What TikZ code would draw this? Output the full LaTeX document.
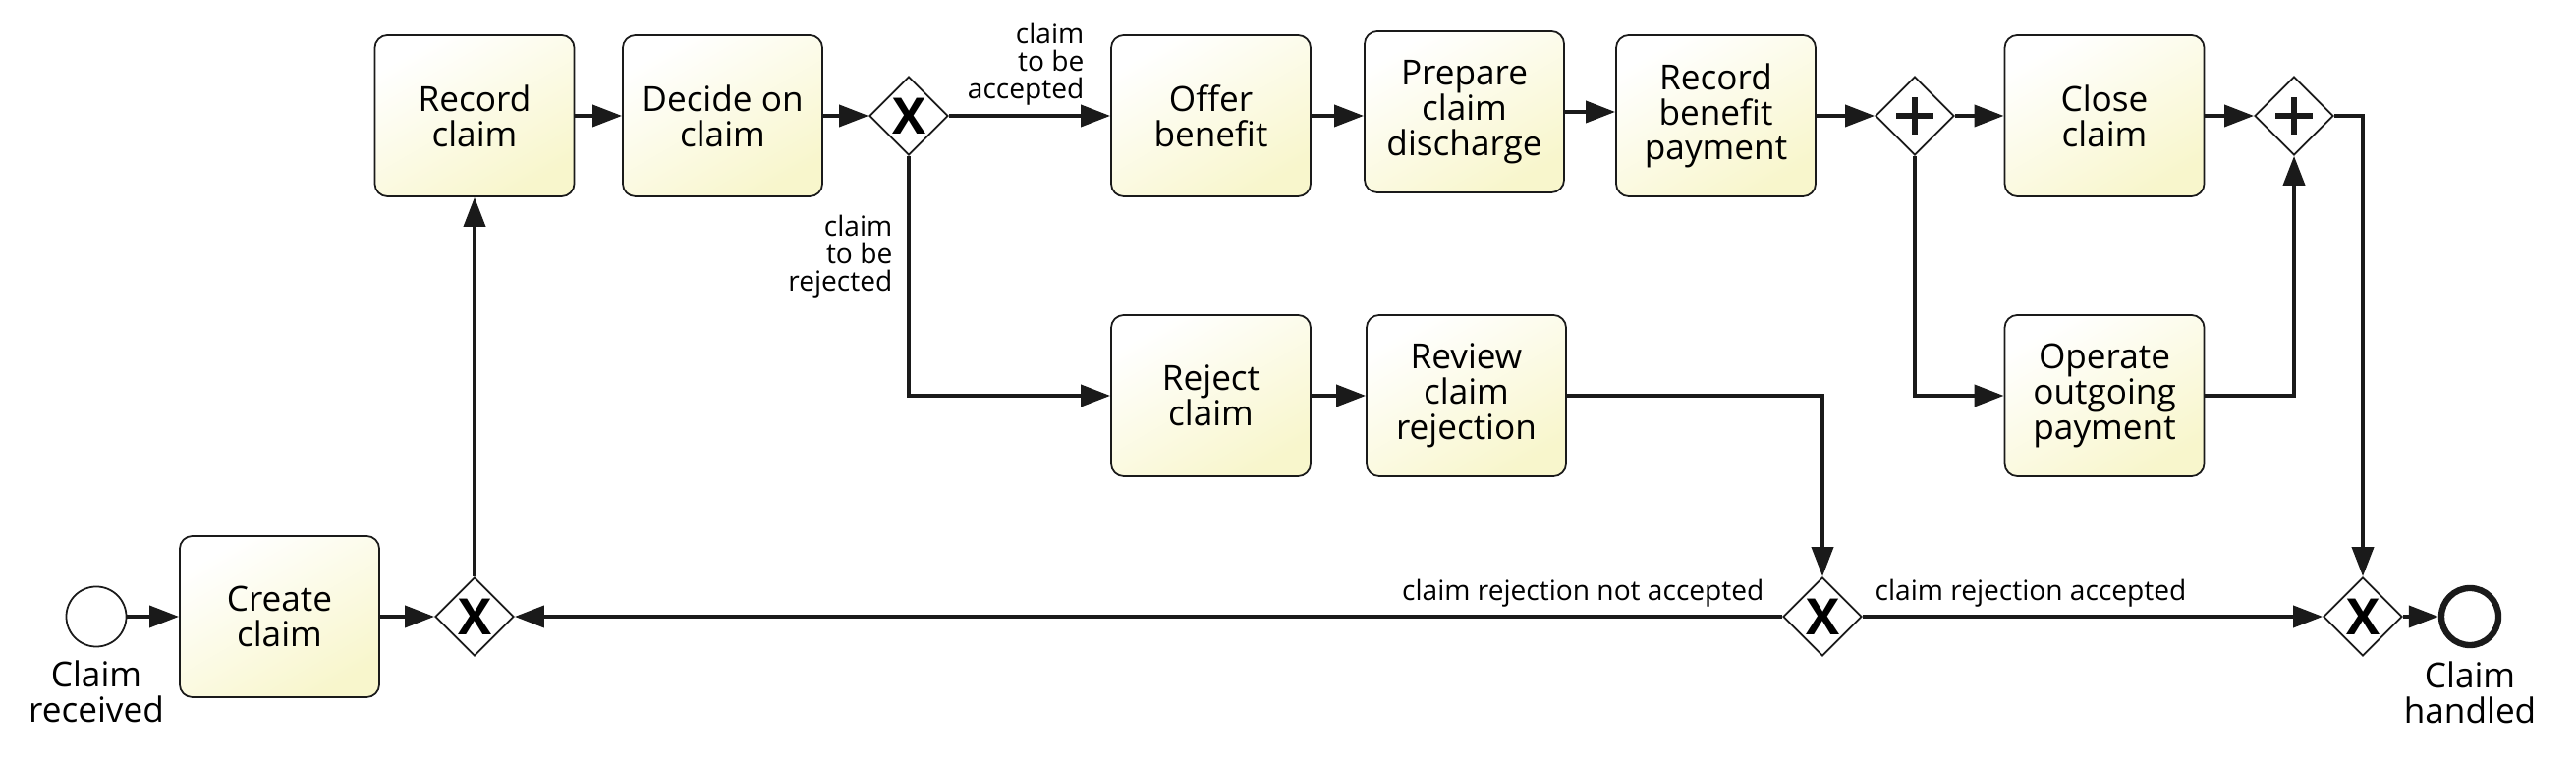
\documentclass[tikz,border=0pt]{standalone}
\usepackage{fontspec}
\setmainfont{Open Sans}
\usetikzlibrary{shapes.geometric,arrows.meta,positioning}

\definecolor{taskfill}{HTML}{F8F6CC}
\definecolor{linecol}{HTML}{1A1A1A}

\tikzset{
  task/.style={rectangle, rounded corners=0.13cm, draw=linecol, line width=0.5pt,
    minimum width=2.03cm, minimum height=1.64cm, align=center, inner sep=0pt,
    top color=white, bottom color=taskfill, shading angle=30,
    font=\fontsize{10}{10.2}\selectfont},
  gateway/.style={diamond, aspect=1, draw=linecol, line width=0.5pt, fill=white,
    minimum width=0.8cm, minimum height=0.8cm, inner sep=0pt},
  xorgw/.style={gateway, font=\fontsize{14.5}{14.5}\selectfont\bfseries},
  andgw/.style={gateway, path picture={
    \draw[line width=1.7pt]
      ([yshift=-0.19cm]path picture bounding box.center) -- ([yshift=0.19cm]path picture bounding box.center)
      ([xshift=-0.19cm]path picture bounding box.center) -- ([xshift=0.19cm]path picture bounding box.center);}},
  startev/.style={circle, draw=linecol, line width=0.5pt, fill=white, minimum size=0.61cm, inner sep=0pt},
  endev/.style={circle, draw=linecol, line width=1.8pt, fill=white, minimum size=0.58cm, inner sep=0pt},
  evlabel/.style={align=center, inner sep=0pt, font=\fontsize{10}{10.2}\selectfont},
  flowlabel/.style={align=right, inner sep=0pt, font=\fontsize{8}{8}\selectfont},
  flow/.style={draw=linecol, line width=1.1pt, -{Triangle[length=0.3cm,width=0.22cm]}},
}

\begin{document}
\begin{tikzpicture}[x=0.01cm, y=-0.01cm]
  \useasboundingbox (0,0) rectangle (2622,774);

  % events and gateways on the bottom line
  \node[startev] (received) at (98,628) {};
  \node[evlabel, below=0.13cm of received] (receivedlbl) {Claim\\received};
  \node[task] (create) at (284.5,628) {Create\\claim};
  \node[xorgw] (merge) at (483,628) {X};
  \node[xorgw] (review gw) at (1855,628) {X};
  \node[xorgw] (handled gw) at (2405,628) {X};
  \node[endev] (handled) at (2514,628) {};
  \node[evlabel, below=0.13cm of handled] (handledlbl) {Claim\\handled};

  % top line
  \node[task] (record) at (483,118) {Record\\claim};
  \node[task] (decide) at (735.5,118) {Decide on\\claim};
  \node[xorgw] (decision) at (925,118) {X};
  \node[task] (offer) at (1232.5,118) {Offer\\benefit};
  \node[task] (prepare) at (1490.5,114) {Prepare\\claim\\discharge};
  \node[task] (payment) at (1746.5,118) {Record\\benefit\\payment};
  \node[andgw] (split) at (1949,118) {};
  \node[task] (close) at (2142,118) {Close\\claim};
  \node[andgw] (join) at (2335,118) {};

  % middle line
  \node[task] (reject) at (1232.5,403) {Reject\\claim};
  \node[task] (review) at (1492.5,403) {Review\\claim\\rejection};
  \node[task] (operate) at (2142,403) {Operate\\outgoing\\payment};

  % flows
  \draw[flow] (received) -- (create);
  \draw[flow] (create) -- (merge);
  \draw[flow] (merge) -- (record);
  \draw[flow] (record) -- (decide);
  \draw[flow] (decide) -- (decision);
  \draw[flow] (decision) -- (offer);
  \draw[flow] (decision.south) |- (reject.west);
  \draw[flow] (offer.east) -- (offer.east -| prepare.west);
  \draw[flow] (prepare.east) -- (prepare.east -| payment.west);
  \draw[flow] (payment) -- (split);
  \draw[flow] (split) -- (close);
  \draw[flow] (split.south) |- (operate.west);
  \draw[flow] (close) -- (join);
  \draw[flow] (operate.east) -| (join.south);
  \draw[flow] (join.east) -| (handled gw.north);
  \draw[flow] (reject) -- (review);
  \draw[flow] (review.east) -| (review gw.north);
  \draw[flow] (review gw) -- (merge);
  \draw[flow] (review gw) -- (handled gw);
  \draw[flow] (handled gw) -- (handled);

  % flow labels
  \node[flowlabel, anchor=south east] (acceptlbl) at ([xshift=-0.26cm, yshift=0.1cm]offer.west) {claim\\to be\\accepted};
  \node[flowlabel, anchor=north east] (rejectlbl) at ([xshift=-0.16cm, yshift=-0.59cm]decision.south) {claim\\to be\\rejected};
  \node[flowlabel, anchor=base east] (notacclbl) at ([xshift=-0.18cm, yshift=0.16cm]review gw.west) {claim rejection not accepted};
  \node[flowlabel, anchor=base west] (acclbl) at ([xshift=0.12cm, yshift=0.16cm]review gw.east) {claim rejection accepted};
\end{tikzpicture}
\end{document}
